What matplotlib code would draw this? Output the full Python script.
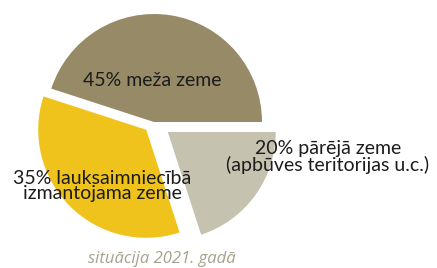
import matplotlib
matplotlib.use("Agg")
import matplotlib.pyplot as plt

# data
categories = ["meža zeme", "lauksaimniecībā\nizmantojama zeme", "pārējā zeme\n(apbūves teritorijas u.c.)"]
shares = [45, 35, 20]
colors = ["#978a66", "#efc31c", "#c6c2b0"]
caption = "situācija 2021. gadā"

W, H = 437, 268
fig = plt.figure(figsize=(W / 100, H / 100), dpi=100)
ax = fig.add_axes([0, 0, 1, 1])

cx, cy, r = 154, H - 122, 108
# explode offsets are in data units (pixels here)
ax.pie(shares, colors=colors, startangle=0, counterclock=True,
       explode=[0, 11, 17], center=(cx, cy), radius=r,
       wedgeprops=dict(linewidth=0), frame=True)
ax.set_xlim(0, W)
ax.set_ylim(0, H)
ax.set_aspect("equal")
ax.axis("off")

font = ["Lato", "DejaVu Sans"]
txt = "#1c1c1c"
labels = []
for v, c in zip(shares, categories):
    parts = c.split("\n")
    labels.append("\n".join([f"{v}% {parts[0]}"] + parts[1:]))
pos = [(152, H - 81), (102, H - 186), (328, H - 157)]
for lab, (x, y) in zip(labels, pos):
    ax.text(x, y, lab, ha="center", va="center", fontsize=14, family=font,
            color=txt, linespacing=0.9)

ax.text(162, H - 259, caption, ha="center", va="center", fontsize=12,
        style="italic", family=["Open Sans", "DejaVu Sans"], color="#a9a18f")

fig.savefig("out.png", dpi=100)
